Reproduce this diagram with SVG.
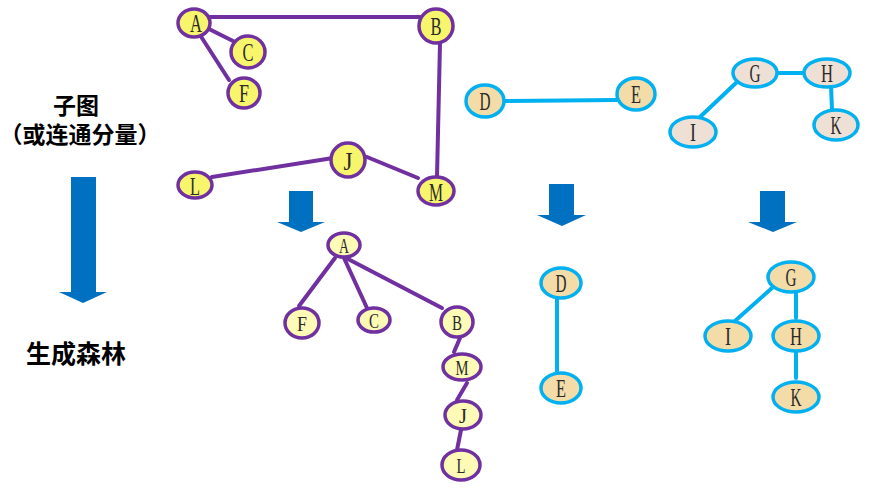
<svg xmlns="http://www.w3.org/2000/svg" width="884" height="492" viewBox="0 0 884 492">
<defs>
<style>
.pe{stroke:#7030a0;stroke-width:4;fill:none;stroke-linecap:round}
.ce{stroke:#00b0f0;stroke-width:4;fill:none;stroke-linecap:round}
.py{fill:#f7f56c;stroke:#7030a0;stroke-width:3.5}
.pl{fill:#fdfbb6;stroke:#7030a0;stroke-width:3.5}
.cw{fill:#f3dca8;stroke:#00b0f0;stroke-width:3.5}
.cp{fill:#efe0d6;stroke:#00b0f0;stroke-width:3.5}
.t{font-family:"Liberation Serif","DejaVu Serif",serif;font-size:25px;fill:#2a2a2a;text-anchor:middle}
.ts{font-family:"Liberation Serif","DejaVu Serif",serif;font-size:22px;fill:#2a2a2a;text-anchor:middle}
.zh{font-family:"Liberation Sans","Noto Sans CJK SC",sans-serif;font-size:23px;font-weight:bold;fill:#000;text-anchor:middle}
.ar{fill:#0070c0}
</style>
</defs>
<rect width="884" height="492" fill="#fff"/>

<g id="labels">
<text class="zh" x="76" y="114">子图</text>
<text class="zh" x="80" y="143">（或连通分量）</text>
<text class="zh" x="76" y="363" style="font-size:25px">生成森林</text>
</g>

<g id="arrows">
<path class="ar" d="M71,177 H96 V292 H107 L83,303 L59,292 H71 Z"/>
<path class="ar" d="M289,191 H313 V222 H325 L301,232 L277,222 H289 Z"/>
<path class="ar" d="M549,184 H574 V215 H586 L562,226 L537,215 H549 Z"/>
<path class="ar" d="M760,191 H785 V222 H797 L773,232 L748,222 H760 Z"/>
</g>

<g id="connectors">
<line class="pe" x1="210" y1="17" x2="420" y2="17"/>
<line class="pe" x1="207" y1="28" x2="235" y2="42"/>
<line class="pe" x1="200" y1="35" x2="229" y2="80"/>
<line class="pe" x1="440" y1="43" x2="437" y2="177"/>
<line class="pe" x1="212" y1="177" x2="333" y2="158"/>
<line class="pe" x1="367" y1="157" x2="418" y2="178"/>

<line class="pe" x1="335" y1="258" x2="299" y2="306"/>
<line class="pe" x1="344" y1="258" x2="367" y2="308"/>
<line class="pe" x1="348" y1="259" x2="442" y2="308"/>
<line class="pe" x1="460" y1="338" x2="454" y2="352"/>
<line class="pe" x1="467" y1="383" x2="457" y2="400"/>
<line class="pe" x1="461" y1="430" x2="457" y2="450"/>

<line class="ce" x1="504" y1="101" x2="617" y2="100"/>
<line class="ce" x1="777" y1="73" x2="804" y2="73"/>
<line class="ce" x1="737" y1="82" x2="700" y2="117"/>
<line class="ce" x1="831" y1="85" x2="832" y2="110"/>

<line class="ce" x1="557" y1="298" x2="557" y2="373"/>
<line class="ce" x1="772" y1="288" x2="735" y2="321"/>
<line class="ce" x1="796" y1="292" x2="796" y2="318"/>
<line class="ce" x1="796" y1="352" x2="796" y2="378"/>
</g>

<g id="nA"><ellipse class="py" cx="194" cy="23" rx="16" ry="14"/><text class="t" x="196" y="32" textLength="12" lengthAdjust="spacingAndGlyphs">A</text></g>
<g id="nC"><ellipse class="py" cx="248" cy="52" rx="17" ry="16"/><text class="t" x="248" y="61" textLength="11" lengthAdjust="spacingAndGlyphs">C</text></g>
<g id="nF"><ellipse class="py" cx="244" cy="93" rx="16" ry="15"/><text class="t" x="244" y="102" textLength="10" lengthAdjust="spacingAndGlyphs">F</text></g>
<g id="nB"><ellipse class="py" cx="436" cy="26" rx="17" ry="17"/><text class="t" x="436" y="35" textLength="11" lengthAdjust="spacingAndGlyphs">B</text></g>
<g id="nJ"><ellipse class="py" cx="348" cy="160" rx="17" ry="17"/><text class="t" x="348" y="170" textLength="9" lengthAdjust="spacingAndGlyphs">J</text></g>
<g id="nL"><ellipse class="py" cx="195" cy="185" rx="17" ry="13"/><text class="t" x="195" y="195" textLength="10" lengthAdjust="spacingAndGlyphs">L</text></g>
<g id="nM"><ellipse class="py" cx="436" cy="191" rx="18" ry="14"/><text class="t" x="436" y="201" textLength="14" lengthAdjust="spacingAndGlyphs">M</text></g>

<g id="tA"><ellipse class="pl" cx="344" cy="245" rx="16" ry="12"/><text class="ts" x="344" y="253" textLength="10" lengthAdjust="spacingAndGlyphs">A</text></g>
<g id="tF"><ellipse class="pl" cx="302" cy="323" rx="17" ry="15"/><text class="ts" x="302" y="331" textLength="10" lengthAdjust="spacingAndGlyphs">F</text></g>
<g id="tC"><ellipse class="pl" cx="374" cy="320" rx="16" ry="12"/><text class="ts" x="374" y="328" textLength="10" lengthAdjust="spacingAndGlyphs">C</text></g>
<g id="tB"><ellipse class="pl" cx="457" cy="322" rx="16" ry="15"/><text class="ts" x="457" y="330" textLength="10" lengthAdjust="spacingAndGlyphs">B</text></g>
<g id="tM"><ellipse class="pl" cx="462" cy="367" rx="19" ry="13"/><text class="ts" x="462" y="375" textLength="13" lengthAdjust="spacingAndGlyphs">M</text></g>
<g id="tJ"><ellipse class="pl" cx="463" cy="415" rx="18" ry="14"/><text class="ts" x="463" y="423" textLength="8" lengthAdjust="spacingAndGlyphs">J</text></g>
<g id="tL"><ellipse class="pl" cx="461" cy="465" rx="19" ry="15"/><text class="ts" x="461" y="473" textLength="9" lengthAdjust="spacingAndGlyphs">L</text></g>

<g id="nD"><ellipse class="cw" cx="485" cy="101" rx="19" ry="16"/><text class="t" x="485" y="110" textLength="11" lengthAdjust="spacingAndGlyphs">D</text></g>
<g id="nE"><ellipse class="cw" cx="636" cy="94" rx="19" ry="16"/><text class="t" x="636" y="103" textLength="10" lengthAdjust="spacingAndGlyphs">E</text></g>
<g id="nG"><ellipse class="cp" cx="755" cy="73" rx="22" ry="14"/><text class="t" x="755" y="82" textLength="11" lengthAdjust="spacingAndGlyphs">G</text></g>
<g id="nH"><ellipse class="cp" cx="827" cy="73" rx="23" ry="14"/><text class="t" x="827" y="82" textLength="12" lengthAdjust="spacingAndGlyphs">H</text></g>
<g id="nI"><ellipse class="cp" cx="693" cy="132" rx="23" ry="15"/><text class="t" x="693" y="141" textLength="6" lengthAdjust="spacingAndGlyphs">I</text></g>
<g id="nK"><ellipse class="cp" cx="836" cy="125" rx="22" ry="15"/><text class="t" x="836" y="134" textLength="11" lengthAdjust="spacingAndGlyphs">K</text></g>

<g id="fD"><ellipse class="cw" cx="561" cy="283" rx="20" ry="15"/><text class="t" x="561" y="292" textLength="11" lengthAdjust="spacingAndGlyphs">D</text></g>
<g id="fE"><ellipse class="cw" cx="561" cy="388" rx="20" ry="15"/><text class="t" x="561" y="397" textLength="10" lengthAdjust="spacingAndGlyphs">E</text></g>
<g id="fG"><ellipse class="cw" cx="791" cy="277" rx="23" ry="15"/><text class="t" x="791" y="286" textLength="11" lengthAdjust="spacingAndGlyphs">G</text></g>
<g id="fI"><ellipse class="cw" cx="728" cy="336" rx="23" ry="15"/><text class="t" x="728" y="345" textLength="6" lengthAdjust="spacingAndGlyphs">I</text></g>
<g id="fH"><ellipse class="cw" cx="796" cy="336" rx="23" ry="15"/><text class="t" x="796" y="345" textLength="12" lengthAdjust="spacingAndGlyphs">H</text></g>
<g id="fK"><ellipse class="cw" cx="796" cy="397" rx="23" ry="15"/><text class="t" x="796" y="406" textLength="11" lengthAdjust="spacingAndGlyphs">K</text></g>
</svg>
